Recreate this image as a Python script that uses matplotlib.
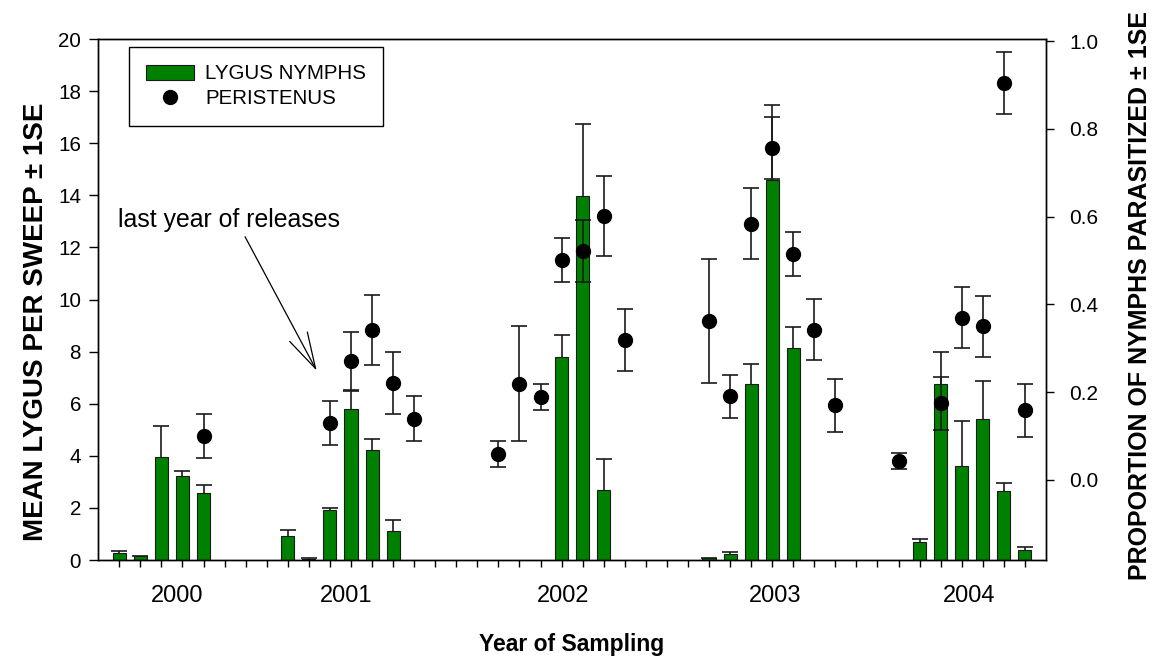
"""
Lygus nymphs per sweep (bars, left axis) and proportion of nymphs
parasitized by Peristenus (dots, right axis), 2000-2004.
"""
import numpy as np
import matplotlib
matplotlib.use("Agg")
import matplotlib.pyplot as plt
from matplotlib.lines import Line2D

plt.rcParams["font.family"] = ["Liberation Sans", "DejaVu Sans"]

# sampling dates are plotted as consecutive slots on the x axis
YEARS = ["2000", "2001", "2002", "2003", "2004"]
YEAR_POS = [2.74, 10.78, 21.08, 31.13, 40.36]

# lygus nymphs, mean per sweep + 1 SE
BAR_IDX = [0, 1, 2, 3, 4,
           8, 9, 10, 11, 12, 13,
           21, 22, 23,
           28, 29, 30, 31, 32,
           38, 39, 40, 41, 42, 43]
BAR_MEAN = [0.27, 0.17, 3.97, 3.22, 2.57,
            0.92, 0.05, 1.92, 5.80, 4.22, 1.11,
            7.80, 13.98, 2.69,
            0.06, 0.22, 6.77, 14.60, 8.13,
            0.71, 6.77, 3.62, 5.42, 2.66, 0.39]
BAR_SE = [0.09, 0.0, 1.17, 0.20, 0.31,
          0.23, 0.02, 0.08, 0.70, 0.41, 0.41,
          0.82, 2.75, 1.18,
          0.02, 0.07, 0.75, 2.87, 0.81,
          0.08, 1.20, 1.73, 1.45, 0.31, 0.11]

# peristenus, proportion of nymphs parasitized +- 1 SE
PT_IDX = [4,
          10, 11, 12, 13, 14,
          18, 19, 20, 21, 22, 23, 24,
          28, 29, 30, 31, 32, 33, 34,
          37, 39, 40, 41, 42, 43]
PT_MEAN = [0.100,
           0.129, 0.270, 0.341, 0.220, 0.139,
           0.058, 0.219, 0.189, 0.501, 0.522, 0.602, 0.319,
           0.362, 0.190, 0.584, 0.756, 0.514, 0.342, 0.170,
           0.042, 0.174, 0.370, 0.350, 0.905, 0.158]
PT_SE = [0.050,
         0.050, 0.066, 0.080, 0.071, 0.051,
         0.030, 0.131, 0.029, 0.050, 0.070, 0.091, 0.070,
         0.141, 0.050, 0.081, 0.071, 0.050, 0.070, 0.060,
         0.018, 0.060, 0.070, 0.070, 0.071, 0.060]

GREEN = "#008000"
EDGE = "#1a1a1a"
ERR = "#1a1a1a"

fig = plt.figure(figsize=(11.56, 6.58), dpi=100)
ax = fig.add_axes([0.0850, 0.1489, 0.8198, 0.7918])
ax2 = ax.twinx()

ax.bar(BAR_IDX, BAR_MEAN, width=0.62, color=GREEN, edgecolor=EDGE,
       linewidth=0.8, zorder=2)
eb = ax.errorbar(BAR_IDX, BAR_MEAN, yerr=[np.zeros(len(BAR_SE)), BAR_SE],
                 fmt="none", ecolor=ERR, elinewidth=1.2, capsize=5.8,
                 capthick=1.2, zorder=3)
# only the upper whisker on the bars
for cap in eb[1]:
    if np.allclose(cap.get_ydata(), BAR_MEAN):
        cap.set_visible(False)

ax2.errorbar(PT_IDX, PT_MEAN, yerr=PT_SE, fmt="none", ecolor=ERR,
             elinewidth=1.2, capsize=5.8, capthick=1.2, zorder=3)
ax2.plot(PT_IDX, PT_MEAN, "o", color="black", markersize=10, zorder=4)

ax.set_xlim(-1, 44)
ax.set_ylim(0, 20)
ax2.set_ylim(-0.183, 1.005)

ax.set_yticks(np.arange(0, 21, 2))
ax2.set_yticks([0.0, 0.2, 0.4, 0.6, 0.8, 1.0])
ax2.set_yticklabels(["0.0", "0.2", "0.4", "0.6", "0.8", "1.0"])
ax.set_xticks(range(44), minor=True)
ax.set_xticks(YEAR_POS, labels=YEARS)

ax.tick_params(axis="x", which="major", length=0, pad=18, labelsize=17)
ax.tick_params(axis="x", which="minor", length=5, width=1.0, direction="out")
ax.tick_params(axis="y", length=6.5, width=1.0, pad=6, labelsize=14.9)
ax2.tick_params(axis="y", length=6, width=1.0, pad=11, labelsize=15)

for a in (ax, ax2):
    for sp in a.spines.values():
        sp.set_linewidth(1.0)

ax.set_xlabel("Year of Sampling", fontsize=16.5, fontweight="bold", labelpad=18.5)
ax.set_ylabel("MEAN LYGUS PER SWEEP ± 1SE", fontsize=20, fontweight="bold")
ax2.set_ylabel("PROPORTION OF NYMPHS PARASITIZED ± 1SE", fontsize=18.0,
               fontweight="bold")
ax.yaxis.set_label_coords(-0.052, 0.457)
ax2.yaxis.set_label_coords(1.087, 0.507)

ax.text(-0.06, 13.05, "last year of releases", ha="left", va="center",
        fontsize=17.9)
ax.annotate("", xy=(9.37, 7.27), xytext=(5.97, 12.41),
            arrowprops=dict(arrowstyle="->,head_length=0.65,head_width=0.18",
                            color="black", lw=0.9, mutation_scale=40,
                            shrinkA=0, shrinkB=0))

handles = [
    plt.Rectangle((0, 0), 1, 1, facecolor=GREEN, edgecolor=EDGE, linewidth=0.8),
    Line2D([], [], marker="o", color="black", linestyle="none", markersize=10),
]
leg = ax2.legend(handles, ["LYGUS NYMPHS", "PERISTENUS"], loc="upper left",
                 bbox_to_anchor=(0.0324, 0.985), fontsize=14.8, frameon=True,
                 fancybox=False, edgecolor="black", framealpha=1,
                 handlelength=2.3, handleheight=0.75, handletextpad=0.55,
                 labelspacing=0.3, borderpad=0.85, borderaxespad=0)
leg.get_frame().set_linewidth(1.0)

fig.savefig("out.png", dpi=100)
